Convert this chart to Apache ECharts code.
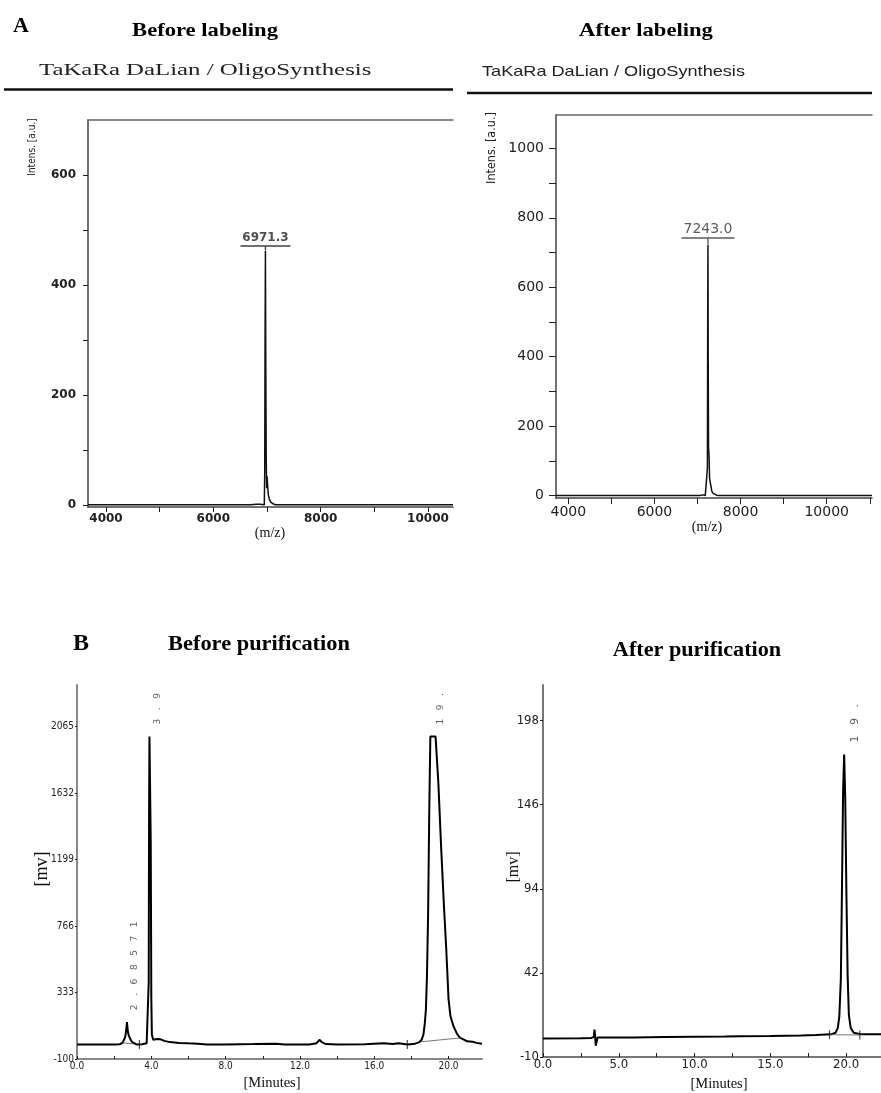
<!DOCTYPE html>
<html lang="en">
<head>
<meta charset="UTF-8">
<title>Before / after labeling and purification</title>
<script src="https://cdn.jsdelivr.net/npm/echarts@6/dist/echarts.min.js"></script>
<style>
html, body { margin: 0; padding: 0; background: #fff; }
#main { width: 881px; height: 1093px; }
</style>
</head>
<body>
<div id="main"></div>
<script>
// ---- A: MALDI spectra (m/z, intensity a.u.) ----
var msBefore = [[3665,0],[4200,0],[4760,0],[4790,3],[4830,0],[5500,0],[6700,0],[6800,1],[6830,4],[6870,1],[6950,0],
    [6958,60],[6964,300],[6971,462],[6978,250],[6986,80],[6994,30],[7002,52],[7012,35],[7025,18],[7045,10],
    [7070,5],[7110,2],[7160,0],[8000,0],[10466,0]];
var msAfter = [[3714,0],[5000,0],[7050,0],[7130,2],[7180,0],[7222,0],[7230,80],[7237,530],[7243,722],[7249,380],
    [7256,140],[7268,115],[7280,50],[7295,38],[7312,28],[7330,14],[7355,7],[7390,3],[7440,1],[7490,0],[11052,0]];
var msBeforePeak = [[6971.3, 462]];
var msAfterPeak = [[7243.0, 722]];

var msBeforeXLabels = [4000, 6000, 8000, 10000];
var msBeforeXTicks = [4000, 5000, 6000, 7000, 8000, 9000, 10000];
var msBeforeYLabels = [0, 200, 400, 600];
var msBeforeYTicks = [0, 100, 200, 300, 400, 500, 600];
var msAfterXLabels = [4000, 6000, 8000, 10000];
var msAfterXTicks = [4000, 5000, 6000, 7000, 8000, 9000, 10000, 11000];
var msAfterYLabels = [0, 200, 400, 600, 800, 1000];
var msAfterYTicks = [0, 100, 200, 300, 400, 500, 600, 700, 800, 900, 1000];

// ---- B: HPLC traces (minutes, mV) ----
var hplcBefore = [[0,-5],[1,-5],[2,-5],[2.3,-4],[2.45,5],[2.55,30],[2.6,45],[2.65,90],[2.69,140],[2.73,85],[2.78,55],
    [2.85,35],[2.95,12],[3.05,0],[3.2,-5],[3.5,-4],[3.75,2],[3.82,12],[3.86,400],[3.88,1500],[3.9,2000],[3.95,2000],
    [3.97,1300],[4.0,300],[4.03,60],[4.1,25],[4.3,30],[4.4,40],[4.5,28],[4.7,18],[5.0,10],[5.5,5],[6.0,2],[6.5,0],
    [7.0,-5],[8.0,-5],[9.5,-3],[10.7,0],[11.2,-5],[12.5,-5],[12.9,3],[13.05,25],[13.2,8],[13.4,-3],[14.0,-5],
    [15.5,-4],[16.5,2],[17.0,-2],[17.3,2],[17.8,-5],[18.2,0],[18.4,8],[18.55,25],[18.65,60],[18.72,130],[18.78,220],
    [18.84,450],[18.9,850],[18.96,1500],[19.02,2000],[19.3,2000],[19.45,1700],[19.6,1280],[19.75,900],[19.87,630],
    [20.0,290],[20.1,180],[20.26,115],[20.45,65],[20.6,40],[20.8,28],[21.0,15],[21.3,12],[21.5,5],[21.8,0]];
var hplcAfter = [[0,1.5],[2.5,1.6],[3.2,1.8],[3.35,2.5],[3.4,7],[3.44,3],[3.48,-3],[3.52,-2],[3.6,2],[4,2],[6,2.1],
    [8,2.3],[10,2.5],[12,2.6],[13,2.8],[15,3.0],[17,3.3],[18,3.6],[19,4],[19.3,5],[19.45,8],[19.55,15],[19.65,38],
    [19.72,90],[19.8,155],[19.87,177],[19.94,150],[20.02,90],[20.1,40],[20.18,16],[20.3,8],[20.5,5],[21,4],[22.3,4]];
var hplcBeforeBase1 = [[2.45,5],[3.05,-2]];
var hplcBeforeBase2 = [[18.5,12],[20.7,38]];
var hplcAfterBase = [[18.9,3.8],[20.9,3.6]];
var hplcBeforeMarks = [[3.36,-5],[17.78,-5]];
var hplcAfterMarks = [[18.9,3.8],[20.9,3.6]];
var hplcBeforePeaks = [[2.69,140,'2.68571'],[3.92,2000,'3.9'],[19.15,2000,'19.']];
var hplcAfterPeaks = [[19.87,177,'19.']];

var hplcBeforeXLabels = [0, 4, 8, 12, 16, 20];
var hplcBeforeXTicks = [0, 2, 4, 6, 8, 10, 12, 14, 16, 18, 20];
var hplcBeforeYLabels = [-100, 333, 766, 1199, 1632, 2065];
var hplcAfterXLabels = [0, 5, 10, 15, 20];
var hplcAfterXTicks = [0, 2.5, 5, 7.5, 10, 12.5, 15, 17.5, 20];
var hplcAfterYLabels = [-10, 42, 94, 146, 198];

var NARROW = "'Liberation Sans Narrow', 'DejaVu Sans Condensed', sans-serif";
var SERIF = "'Liberation Serif', 'DejaVu Serif', serif";

function spaced(s, gap) {
    return s.split('').join(gap);
}

function plain(v) {
    return String(v);
}

function axis(o) {
    return {
        type: 'value',
        gridIndex: o.grid,
        position: o.position,
        min: o.min,
        max: o.max,
        splitLine: { show: false },
        axisLine: { show: true, onZero: false, lineStyle: { color: o.lineColor || '#555', width: o.lineWidth || 1.5 } },
        axisTick: {
            show: !!o.ticks, inside: !!o.inside, length: o.tickLen || 4,
            customValues: o.ticks, lineStyle: { color: '#222', width: 1 }
        },
        axisLabel: {
            show: !!o.labels, customValues: o.labels, margin: o.margin || 4,
            formatter: o.fmt || plain, color: '#222', fontFamily: o.font, fontSize: o.size, fontWeight: o.weight || 'normal'
        }
    };
}

var myChart = echarts.init(document.getElementById('main'));

var lineStyle = { color: '#111', width: 1.5 };

var option = {
    animation: false,
    backgroundColor: '#fff',
    grid: [
        { left: 88, top: 120, width: 365, height: 387 },
        { left: 556, top: 115, width: 316, height: 383 },
        { left: 77, top: 685, width: 405, height: 374 },
        { left: 543, top: 685, width: 338, height: 372 }
    ],
    xAxis: [
        axis({ grid: 0, min: 3665, max: 10466, labels: msBeforeXLabels, ticks: msBeforeXTicks, tickLen: 5, margin: 6,
               font: 'DejaVu Sans', size: 12, weight: 'bold', lineColor: '#444' }),
        axis({ grid: 0, position: 'top', min: 3665, max: 10466, lineColor: '#666' }),
        axis({ grid: 1, min: 3714, max: 11052, labels: msAfterXLabels, ticks: msAfterXTicks, tickLen: 6, margin: 7,
               font: 'DejaVu Sans', size: 14, lineColor: '#444' }),
        axis({ grid: 1, position: 'top', min: 3714, max: 11052, lineColor: '#666' }),
        axis({ grid: 2, min: 0, max: 21.8, labels: hplcBeforeXLabels, ticks: hplcBeforeXTicks, inside: true, tickLen: 3,
               margin: 2, font: NARROW, size: 10, lineColor: '#888', lineWidth: 2,
               fmt: function (v) { return v.toFixed(1); } }),
        axis({ grid: 3, min: 0, max: 22.3, labels: hplcAfterXLabels, ticks: hplcAfterXTicks, inside: true, tickLen: 4,
               margin: 1, font: NARROW, size: 13, lineColor: '#777', lineWidth: 2,
               fmt: function (v) { return v.toFixed(1); } })
    ],
    yAxis: [
        axis({ grid: 0, min: -4, max: 700, labels: msBeforeYLabels, ticks: msBeforeYTicks, tickLen: 5, margin: 12,
               font: 'DejaVu Sans', size: 12, weight: 'bold', lineColor: '#444' }),
        axis({ grid: 1, min: -7, max: 1096, labels: msAfterYLabels, ticks: msAfterYTicks, tickLen: 7, margin: 12,
               font: 'DejaVu Sans', size: 14, lineColor: '#444' }),
        axis({ grid: 2, min: -100, max: 2336, labels: hplcBeforeYLabels, ticks: hplcBeforeYLabels, tickLen: 2,
               margin: 3, font: NARROW, size: 10, lineColor: '#888', lineWidth: 2 }),
        axis({ grid: 3, min: -10, max: 220, labels: hplcAfterYLabels, ticks: hplcAfterYLabels, tickLen: 3,
               margin: 4, font: NARROW, size: 13, lineColor: '#777', lineWidth: 2 })
    ],
    series: [
        { type: 'line', xAxisIndex: 0, yAxisIndex: 0, data: msBefore, showSymbol: false, lineStyle: lineStyle, silent: true },
        { type: 'line', xAxisIndex: 2, yAxisIndex: 1, data: msAfter, showSymbol: false, lineStyle: lineStyle, silent: true },
        {
            type: 'scatter', xAxisIndex: 0, yAxisIndex: 0, data: msBeforePeak, silent: true,
            symbol: 'path://M0,0H50V1.5H0Z M24.3,1.5H25.7V5H24.3Z', symbolSize: [50, 5], symbolOffset: [0, -3],
            itemStyle: { color: '#111' },
            label: { show: true, position: 'top', distance: 1, color: '#222', fontFamily: 'DejaVu Sans', fontSize: 12,
                     fontWeight: 'bold', formatter: function (p) { return p.value[0].toFixed(1); } }
        },
        {
            type: 'scatter', xAxisIndex: 2, yAxisIndex: 1, data: msAfterPeak, silent: true,
            symbol: 'path://M0,0H53V1.5H0Z M25.8,1.5H27.2V7H25.8Z', symbolSize: [53, 7], symbolOffset: [0, -4],
            itemStyle: { color: '#333' },
            label: { show: true, position: 'top', distance: 1, color: '#333', fontFamily: 'DejaVu Sans', fontSize: 14,
                     formatter: function (p) { return p.value[0].toFixed(1); } }
        },
        { type: 'line', xAxisIndex: 4, yAxisIndex: 2, data: hplcBefore, showSymbol: false, lineStyle: { color: '#000', width: 2 }, silent: true },
        { type: 'line', xAxisIndex: 4, yAxisIndex: 2, data: hplcBeforeBase1, showSymbol: false, lineStyle: { color: '#555', width: 0.8 }, silent: true },
        { type: 'line', xAxisIndex: 4, yAxisIndex: 2, data: hplcBeforeBase2, showSymbol: false, lineStyle: { color: '#555', width: 0.8 }, silent: true },
        { type: 'scatter', xAxisIndex: 4, yAxisIndex: 2, data: hplcBeforeMarks, symbol: 'rect', symbolSize: [1.2, 9], itemStyle: { color: '#222' }, silent: true },
        { type: 'line', xAxisIndex: 5, yAxisIndex: 3, data: hplcAfter, showSymbol: false, lineStyle: { color: '#000', width: 2 }, silent: true },
        { type: 'line', xAxisIndex: 5, yAxisIndex: 3, data: hplcAfterBase, showSymbol: false, lineStyle: { color: '#555', width: 0.8 }, silent: true },
        { type: 'scatter', xAxisIndex: 5, yAxisIndex: 3, data: hplcAfterMarks, symbol: 'rect', symbolSize: [1.2, 9], itemStyle: { color: '#222' }, silent: true },
        {
            type: 'scatter', xAxisIndex: 4, yAxisIndex: 2, silent: true, symbolSize: 1, itemStyle: { color: 'transparent' },
            data: hplcBeforePeaks.map(function (p) { return { value: [p[0], p[1]], name: p[2] }; }),
            label: { show: true, position: 'inside', rotate: 90, align: 'left', verticalAlign: 'middle', offset: [12, 8],
                     fontFamily: 'DejaVu Sans', fontSize: 9, color: '#333',
                     formatter: function (p) { return spaced(p.name, '   '); } }
        },
        {
            type: 'scatter', xAxisIndex: 5, yAxisIndex: 3, silent: true, symbolSize: 1, itemStyle: { color: 'transparent' },
            data: hplcAfterPeaks.map(function (p) { return { value: [p[0], p[1]], name: p[2] }; }),
            label: { show: true, position: 'inside', rotate: 90, align: 'left', verticalAlign: 'middle', offset: [12, 11],
                     fontFamily: 'DejaVu Sans', fontSize: 11, color: '#333',
                     formatter: function (p) { return spaced(p.name, '   '); } }
        }
    ],
    graphic: [
        { type: 'text', x: 13, y: 26, style: { text: 'A', font: 'bold 22px ' + SERIF, fill: '#000', textAlign: 'left', textVerticalAlign: 'middle' } },
        { type: 'text', x: 205, y: 31, scaleX: 1.19, style: { text: 'Before labeling', font: 'bold 19px ' + SERIF, fill: '#000', textAlign: 'center', textVerticalAlign: 'middle' } },
        { type: 'text', x: 646, y: 31, scaleX: 1.19, style: { text: 'After labeling', font: 'bold 19px ' + SERIF, fill: '#000', textAlign: 'center', textVerticalAlign: 'middle' } },
        { type: 'text', x: 39, y: 71, scaleX: 1.55, style: { text: 'TaKaRa DaLian / OligoSynthesis', font: '16px ' + SERIF, fill: '#222', textAlign: 'left', textVerticalAlign: 'middle' } },
        { type: 'text', x: 482, y: 72, scaleX: 1.25, style: { text: 'TaKaRa DaLian / OligoSynthesis', font: '14.5px Liberation Sans, Arial, sans-serif', fill: '#222', textAlign: 'left', textVerticalAlign: 'middle' } },
        { type: 'line', shape: { x1: 4, y1: 89.5, x2: 453, y2: 89.5 }, style: { stroke: '#111', lineWidth: 2.5 } },
        { type: 'line', shape: { x1: 467, y1: 93, x2: 872, y2: 93 }, style: { stroke: '#111', lineWidth: 2.5 } },
        { type: 'text', x: 32, y: 147, rotation: Math.PI / 2, style: { text: 'Intens. [a.u.]', font: '10px ' + NARROW, fill: '#222', textAlign: 'center', textVerticalAlign: 'middle' } },
        { type: 'text', x: 492, y: 148, rotation: Math.PI / 2, style: { text: 'Intens. [a.u.]', font: '12.5px ' + NARROW, fill: '#222', textAlign: 'center', textVerticalAlign: 'middle' } },
        { type: 'text', x: 270, y: 533, style: { text: '(m/z)', font: '14px ' + SERIF, fill: '#111', textAlign: 'center', textVerticalAlign: 'middle' } },
        { type: 'text', x: 707, y: 527, style: { text: '(m/z)', font: '14px ' + SERIF, fill: '#111', textAlign: 'center', textVerticalAlign: 'middle' } },
        { type: 'text', x: 73, y: 644, style: { text: 'B', font: 'bold 24px ' + SERIF, fill: '#000', textAlign: 'left', textVerticalAlign: 'middle' } },
        { type: 'text', x: 259, y: 645, scaleX: 1.12, style: { text: 'Before purification', font: 'bold 20px ' + SERIF, fill: '#000', textAlign: 'center', textVerticalAlign: 'middle' } },
        { type: 'text', x: 697, y: 651, scaleX: 1.11, style: { text: 'After purification', font: 'bold 20px ' + SERIF, fill: '#000', textAlign: 'center', textVerticalAlign: 'middle' } },
        { type: 'text', x: 42, y: 869, rotation: Math.PI / 2, style: { text: '[mv]', font: '18px ' + SERIF, fill: '#111', textAlign: 'center', textVerticalAlign: 'middle' } },
        { type: 'text', x: 514, y: 867, rotation: Math.PI / 2, style: { text: '[mv]', font: '16px ' + SERIF, fill: '#111', textAlign: 'center', textVerticalAlign: 'middle' } },
        { type: 'text', x: 272, y: 1083, style: { text: '[Minutes]', font: '14.5px ' + SERIF, fill: '#111', textAlign: 'center', textVerticalAlign: 'middle' } },
        { type: 'text', x: 719, y: 1084, style: { text: '[Minutes]', font: '14.5px ' + SERIF, fill: '#111', textAlign: 'center', textVerticalAlign: 'middle' } }
    ]
};

myChart.setOption(option);
</script>
</body>
</html>
